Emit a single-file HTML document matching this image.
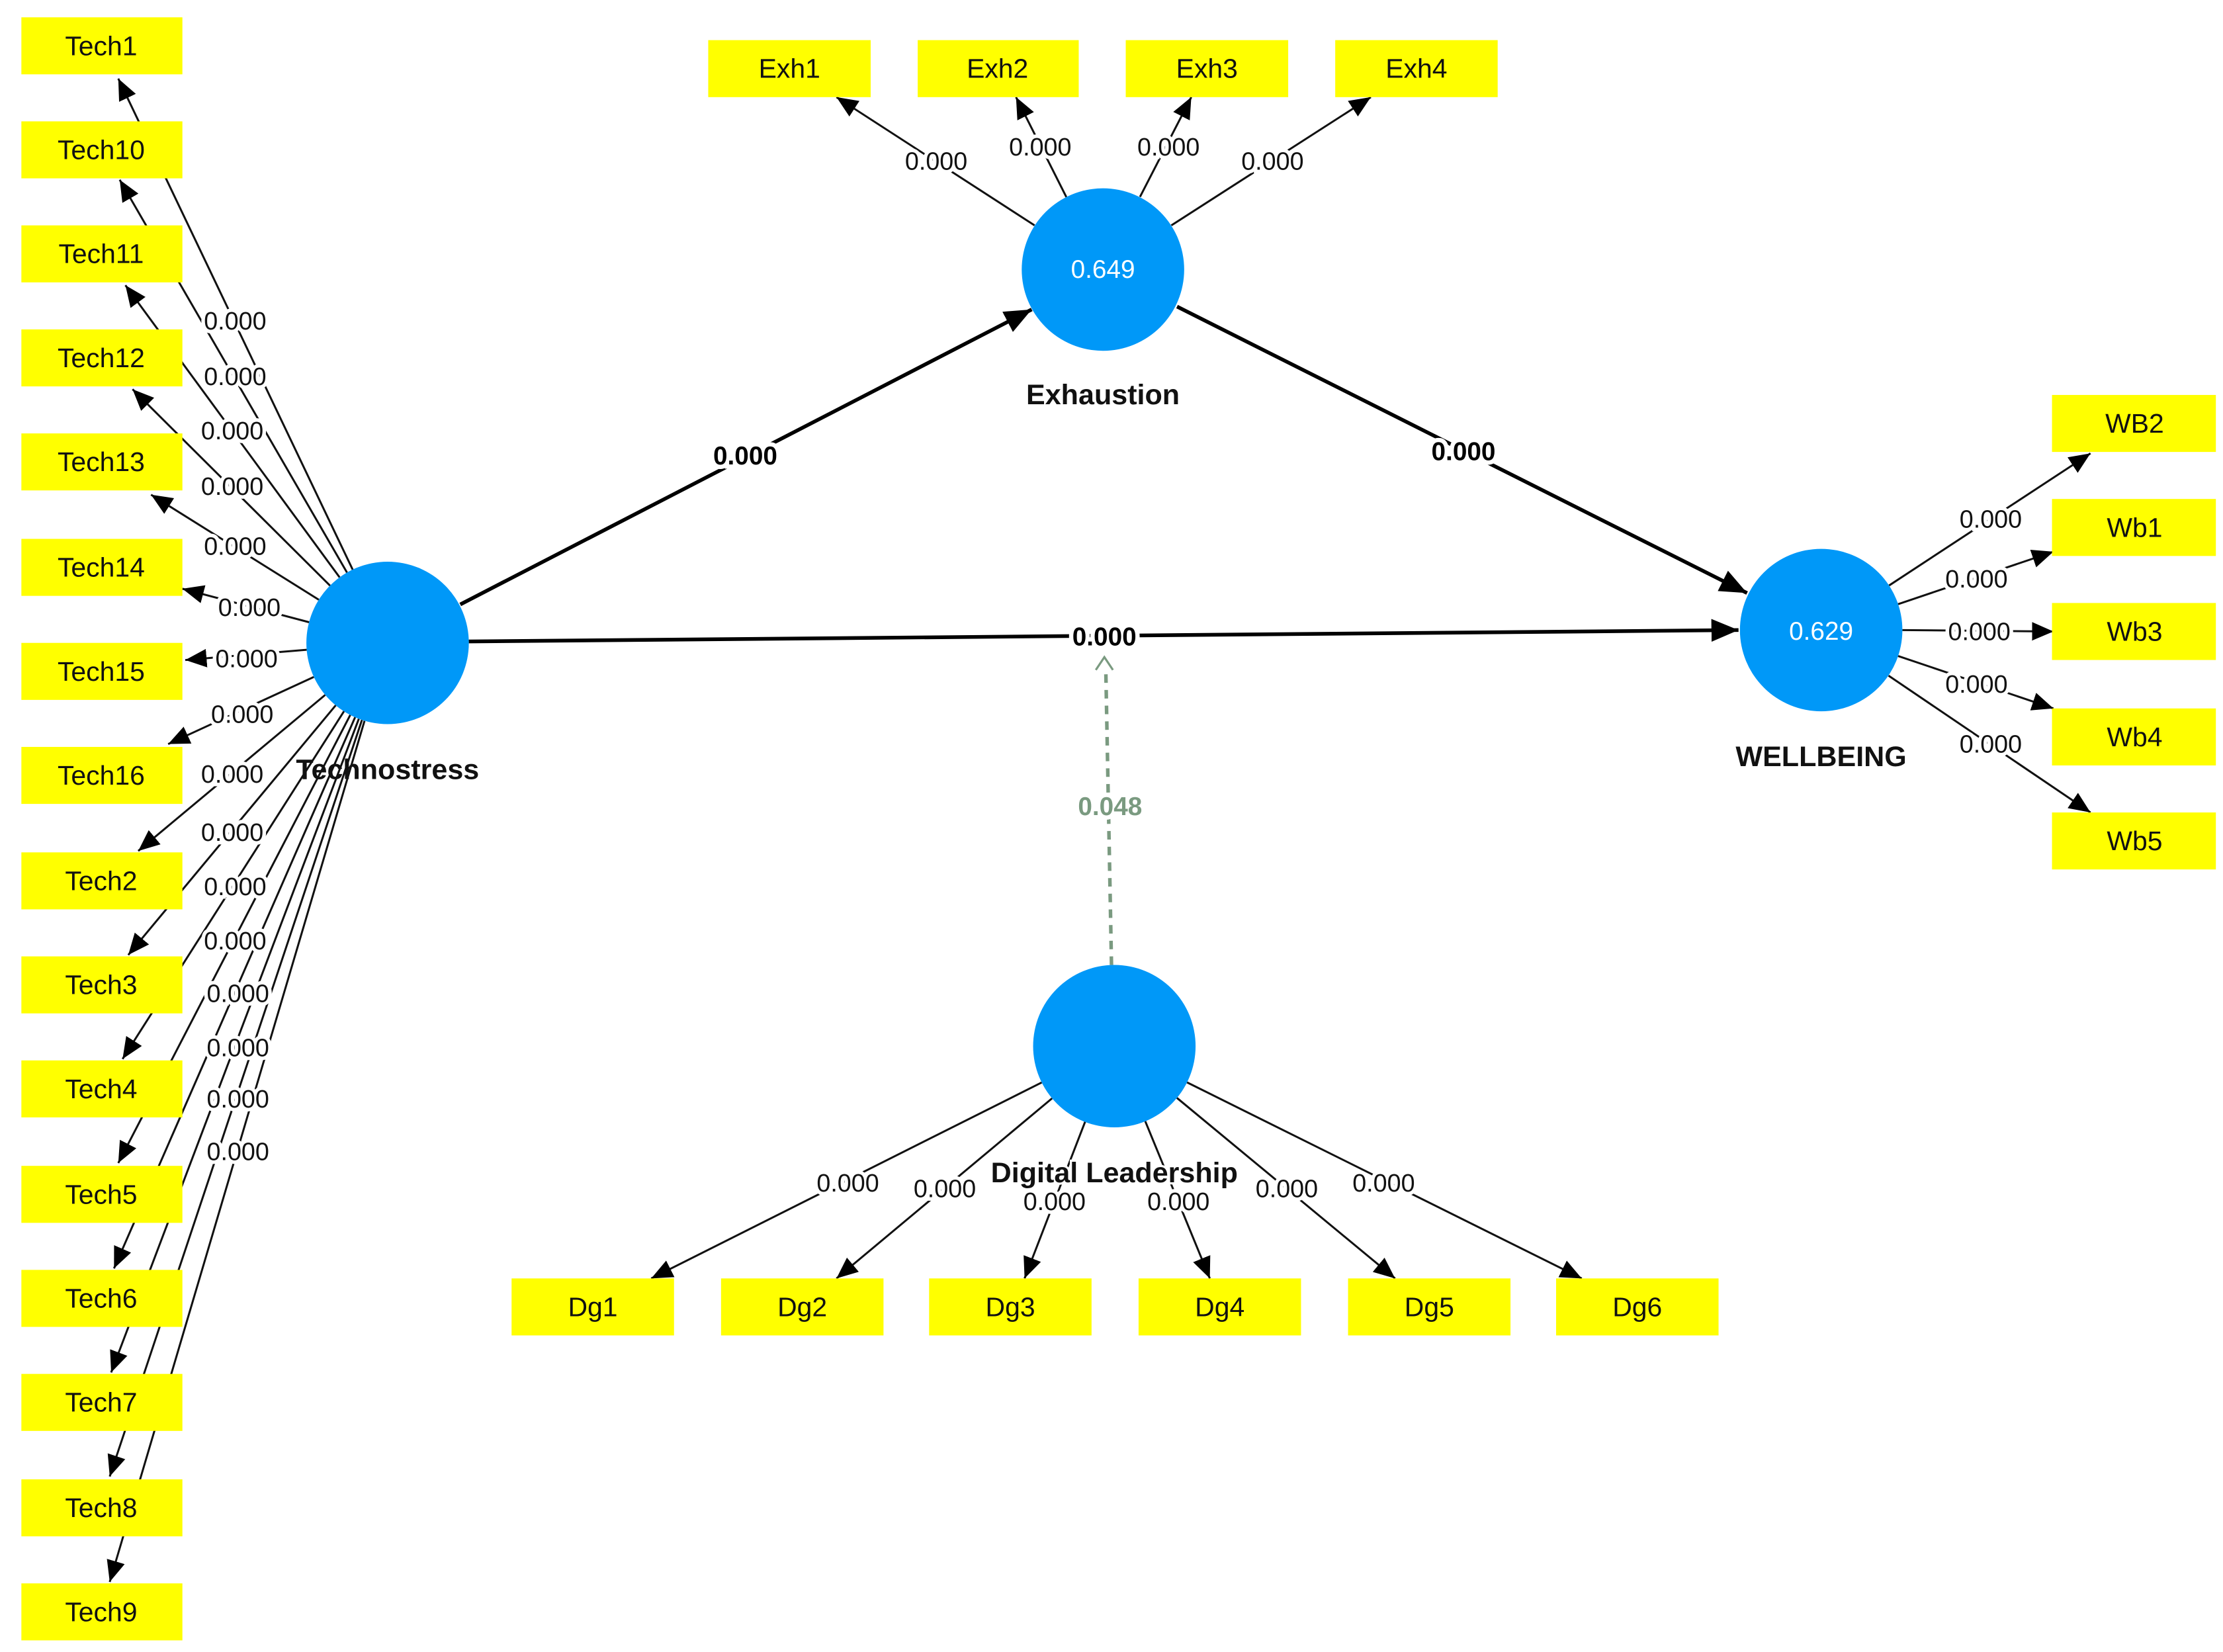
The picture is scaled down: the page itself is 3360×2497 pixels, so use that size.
<!DOCTYPE html>
<html><head><meta charset="utf-8"><style>
html,body{margin:0;padding:0;background:#fff;}
svg{display:block;}
text{font-family:"Liberation Sans",Arial,sans-serif;}
.bx{fill:#ffff00;}
.bt{font-size:19px;text-anchor:middle;dominant-baseline:central;fill:#111;}
.ln{stroke:#111;stroke-width:1.4;fill:none;}
.th{stroke:#000;stroke-width:2.6;fill:none;}
.lb{font-size:17.5px;text-anchor:middle;dominant-baseline:central;fill:#111;stroke:#fff;stroke-width:5px;paint-order:stroke;}
.lbb{font-size:18px;font-weight:bold;text-anchor:middle;dominant-baseline:central;fill:#000;stroke:#fff;stroke-width:6px;paint-order:stroke;}
.nm{font-size:20px;font-weight:bold;text-anchor:middle;dominant-baseline:central;fill:#111;}
.cv{font-size:18px;text-anchor:middle;dominant-baseline:central;fill:#fff;}
.c{fill:#0098f8;}
</style></head><body>
<svg width="3360" height="2497" viewBox="0 0 1560 1159" xmlns="http://www.w3.org/2000/svg">
<defs>
<marker id="a" markerUnits="userSpaceOnUse" markerWidth="16" markerHeight="14" refX="15" refY="6.5" orient="auto"><path d="M0,0 L15,6.5 L0,13 z" fill="#000"/></marker>
<marker id="b" markerUnits="userSpaceOnUse" markerWidth="20" markerHeight="16" refX="19" refY="8" orient="auto"><path d="M0,0 L19,8 L0,16 z" fill="#000"/></marker>
</defs>
<rect width="1560" height="1159" fill="#fff"/>

<!-- Tech lines -->
<g class="ln" marker-end="url(#a)">
<line x1="247.5" y1="399.6" x2="83" y2="55"/>
<line x1="243.5" y1="401.6" x2="84" y2="126"/>
<line x1="238.3" y1="405" x2="88" y2="200"/>
<line x1="231.6" y1="410.8" x2="93" y2="273"/>
<line x1="223.7" y1="420.7" x2="106" y2="347"/>
<line x1="216.9" y1="436.5" x2="128" y2="413"/>
<line x1="215.2" y1="455.8" x2="130" y2="463"/>
<line x1="220.2" y1="474.9" x2="118" y2="522"/>
<line x1="228.2" y1="487.5" x2="97" y2="597"/>
<line x1="235.6" y1="494.8" x2="90" y2="670"/>
<line x1="241.4" y1="499" x2="86" y2="743"/>
<line x1="245.8" y1="501.6" x2="83" y2="816"/>
<line x1="249.2" y1="503.2" x2="80" y2="890"/>
<line x1="251.8" y1="504.3" x2="78" y2="963"/>
<line x1="254" y1="505.1" x2="77" y2="1036"/>
<line x1="255.8" y1="505.7" x2="77" y2="1110"/>
</g>
<!-- Exh lines -->
<g class="ln" marker-end="url(#a)">
<line x1="726" y1="158" x2="587" y2="68"/>
<line x1="748.3" y1="138.1" x2="713" y2="68"/>
<line x1="800" y1="138" x2="836" y2="68"/>
<line x1="822" y1="158" x2="962" y2="68"/>
</g>
<!-- WB lines -->
<g class="ln" marker-end="url(#a)">
<line x1="1325.7" y1="410.7" x2="1467" y2="318"/>
<line x1="1332" y1="423.8" x2="1441" y2="387"/>
<line x1="1335" y1="442" x2="1441" y2="443"/>
<line x1="1332" y1="460.2" x2="1441" y2="497"/>
<line x1="1325.3" y1="474" x2="1467" y2="570"/>
</g>
<!-- Dg lines -->
<g class="ln" marker-end="url(#a)">
<line x1="731" y1="759.5" x2="457" y2="897"/>
<line x1="738.3" y1="770.6" x2="587" y2="897"/>
<line x1="761.5" y1="787" x2="719" y2="897"/>
<line x1="803.7" y1="786.7" x2="849" y2="897"/>
<line x1="825.9" y1="770.3" x2="979" y2="897"/>
<line x1="833" y1="759.4" x2="1110" y2="897"/>
</g>
<!-- structural -->
<g class="th" marker-end="url(#b)">
<line x1="323" y1="424" x2="724" y2="217"/>
<line x1="826" y1="215" x2="1226" y2="416"/>
<line x1="329" y1="450" x2="1220" y2="442"/>
</g>
<line x1="780" y1="677" x2="776" y2="470" stroke="#7a9a80" stroke-width="2.5" stroke-dasharray="6,5"/>
<path d="M769,470 L775,461 L781,470" fill="none" stroke="#7a9a80" stroke-width="1.5"/>

<!-- boxes -->
<g>
<rect class="bx" x="15" y="12" width="113" height="40"/><text class="bt" x="71" y="32">Tech1</text>
<rect class="bx" x="15" y="85" width="113" height="40"/><text class="bt" x="71" y="105">Tech10</text>
<rect class="bx" x="15" y="158" width="113" height="40"/><text class="bt" x="71" y="178">Tech11</text>
<rect class="bx" x="15" y="231" width="113" height="40"/><text class="bt" x="71" y="251">Tech12</text>
<rect class="bx" x="15" y="304" width="113" height="40"/><text class="bt" x="71" y="324">Tech13</text>
<rect class="bx" x="15" y="378" width="113" height="40"/><text class="bt" x="71" y="398">Tech14</text>
<rect class="bx" x="15" y="451" width="113" height="40"/><text class="bt" x="71" y="471">Tech15</text>
<rect class="bx" x="15" y="524" width="113" height="40"/><text class="bt" x="71" y="544">Tech16</text>
<rect class="bx" x="15" y="598" width="113" height="40"/><text class="bt" x="71" y="618">Tech2</text>
<rect class="bx" x="15" y="671" width="113" height="40"/><text class="bt" x="71" y="691">Tech3</text>
<rect class="bx" x="15" y="744" width="113" height="40"/><text class="bt" x="71" y="764">Tech4</text>
<rect class="bx" x="15" y="818" width="113" height="40"/><text class="bt" x="71" y="838">Tech5</text>
<rect class="bx" x="15" y="891" width="113" height="40"/><text class="bt" x="71" y="911">Tech6</text>
<rect class="bx" x="15" y="964" width="113" height="40"/><text class="bt" x="71" y="984">Tech7</text>
<rect class="bx" x="15" y="1038" width="113" height="40"/><text class="bt" x="71" y="1058">Tech8</text>
<rect class="bx" x="15" y="1111" width="113" height="40"/><text class="bt" x="71" y="1131">Tech9</text>

<rect class="bx" x="497" y="28" width="114" height="40"/><text class="bt" x="554" y="48">Exh1</text>
<rect class="bx" x="644" y="28" width="113" height="40"/><text class="bt" x="700" y="48">Exh2</text>
<rect class="bx" x="790" y="28" width="114" height="40"/><text class="bt" x="847" y="48">Exh3</text>
<rect class="bx" x="937" y="28" width="114" height="40"/><text class="bt" x="994" y="48">Exh4</text>

<rect class="bx" x="1440" y="277" width="115" height="40"/><text class="bt" x="1498" y="297">WB2</text>
<rect class="bx" x="1440" y="350" width="115" height="40"/><text class="bt" x="1498" y="370">Wb1</text>
<rect class="bx" x="1440" y="423" width="115" height="40"/><text class="bt" x="1498" y="443">Wb3</text>
<rect class="bx" x="1440" y="497" width="115" height="40"/><text class="bt" x="1498" y="517">Wb4</text>
<rect class="bx" x="1440" y="570" width="115" height="40"/><text class="bt" x="1498" y="590">Wb5</text>

<rect class="bx" x="359" y="897" width="114" height="40"/><text class="bt" x="416" y="917">Dg1</text>
<rect class="bx" x="506" y="897" width="114" height="40"/><text class="bt" x="563" y="917">Dg2</text>
<rect class="bx" x="652" y="897" width="114" height="40"/><text class="bt" x="709" y="917">Dg3</text>
<rect class="bx" x="799" y="897" width="114" height="40"/><text class="bt" x="856" y="917">Dg4</text>
<rect class="bx" x="946" y="897" width="114" height="40"/><text class="bt" x="1003" y="917">Dg5</text>
<rect class="bx" x="1092" y="897" width="114" height="40"/><text class="bt" x="1149" y="917">Dg6</text>
</g>

<!-- circles -->
<circle class="c" cx="272" cy="451" r="57"/>
<circle class="c" cx="774" cy="189" r="57"/><text class="cv" x="774" y="189">0.649</text>
<circle class="c" cx="1278" cy="442" r="57"/><text class="cv" x="1278" y="443">0.629</text>
<circle class="c" cx="782" cy="734" r="57"/>

<!-- names -->
<text class="nm" x="272" y="540">Technostress</text>
<text class="nm" x="774" y="277">Exhaustion</text>
<text class="nm" x="1278" y="531">WELLBEING</text>
<text class="nm" x="782" y="823" style="stroke:#fff;stroke-width:3px;paint-order:stroke">Digital Leadership</text>

<!-- labels -->
<g>
<text class="lb" x="165" y="225">0.000</text>
<text class="lb" x="165" y="264">0.000</text>
<text class="lb" x="163" y="302">0.000</text>
<text class="lb" x="163" y="341">0.000</text>
<text class="lb" x="165" y="383">0.000</text>
<text class="lb" x="175" y="426">0.000</text>
<text class="lb" x="173" y="462">0.000</text>
<text class="lb" x="170" y="501">0.000</text>
<text class="lb" x="163" y="543">0.000</text>
<text class="lb" x="163" y="584">0.000</text>
<text class="lb" x="165" y="622">0.000</text>
<text class="lb" x="165" y="660">0.000</text>
<text class="lb" x="167" y="697">0.000</text>
<text class="lb" x="167" y="735">0.000</text>
<text class="lb" x="167" y="771">0.000</text>
<text class="lb" x="167" y="808">0.000</text>

<text class="lb" x="657" y="113">0.000</text>
<text class="lb" x="730" y="103">0.000</text>
<text class="lb" x="820" y="103">0.000</text>
<text class="lb" x="893" y="113">0.000</text>

<text class="lb" x="1397" y="364">0.000</text>
<text class="lb" x="1387" y="406">0.000</text>
<text class="lb" x="1389" y="443">0.000</text>
<text class="lb" x="1387" y="480">0.000</text>
<text class="lb" x="1397" y="522">0.000</text>

<text class="lb" x="595" y="830">0.000</text>
<text class="lb" x="663" y="834">0.000</text>
<text class="lb" x="740" y="843">0.000</text>
<text class="lb" x="827" y="843">0.000</text>
<text class="lb" x="903" y="834">0.000</text>
<text class="lb" x="971" y="830">0.000</text>

<text class="lbb" x="523" y="320">0.000</text>
<text class="lbb" x="1027" y="317">0.000</text>
<text class="lbb" x="775" y="447">0.000</text>
<text class="lbb" x="779" y="566" style="fill:#7a9a80">0.048</text>
</g>
</svg>
</body></html>
